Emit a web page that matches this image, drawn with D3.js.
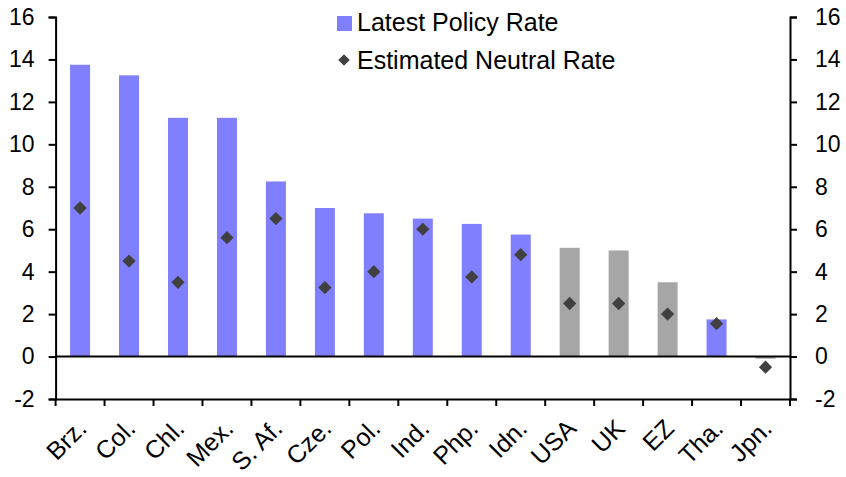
<!DOCTYPE html>
<html>
<head>
<meta charset="utf-8">
<style>
  body { margin: 0; background: #fff; }
  svg { font-family: "Liberation Sans", Arial, sans-serif; }
</style>
</head>
<body>
<svg id="chart" width="846" height="477"></svg>
<script src="https://cdnjs.cloudflare.com/ajax/libs/d3/7.8.5/d3.min.js"></script>
<script>
  const categories = ["Brz.", "Col.", "Chl.", "Mex.", "S. Af.", "Cze.", "Pol.", "Ind.", "Php.", "Idn.", "USA", "UK", "EZ", "Tha.", "Jpn."];
  const policyRate = [13.75, 13.25, 11.25, 11.25, 8.25, 7.0, 6.75, 6.5, 6.25, 5.75, 5.125, 5.0, 3.5, 1.75, -0.1];
  const neutralRate = [7.0, 4.5, 3.5, 5.6, 6.5, 3.25, 4.0, 6.0, 3.75, 4.8, 2.5, 2.5, 2.0, 1.55, -0.5];
  const advanced = ["USA", "UK", "EZ", "Jpn."];
  const yTicks = [-2, 0, 2, 4, 6, 8, 10, 12, 14, 16];

  const blue = "#8080ff";
  const grey = "#a6a6a6";
  const dark = "#404040";

  const plotLeft = 55.6, plotRight = 790, plotTop = 17, plotBottom = 399;
  const svg = d3.select("#chart");

  const x = d3.scaleBand().domain(categories).range([plotLeft, plotRight]).paddingInner(0).paddingOuter(0);
  const y = d3.scaleLinear().domain([-2, 16]).range([plotBottom, plotTop]);
  const barW = 20;

  // bars
  svg.append("g").selectAll("rect")
    .data(categories)
    .join("rect")
    .attr("x", d => x(d) + x.bandwidth() / 2 - barW / 2)
    .attr("width", barW)
    .attr("y", (d, i) => y(Math.max(0, policyRate[i])))
    .attr("height", (d, i) => Math.abs(y(policyRate[i]) - y(0)))
    .attr("fill", d => advanced.includes(d) ? grey : blue);

  // zero line
  svg.append("line")
    .attr("x1", plotLeft).attr("x2", plotRight)
    .attr("y1", y(0)).attr("y2", y(0))
    .attr("stroke", "#000").attr("stroke-width", 2);

  // diamonds
  const diamond = d3.symbol(d3.symbolSquare, 88);
  svg.append("g").selectAll("path")
    .data(categories)
    .join("path")
    .attr("d", diamond)
    .attr("transform", (d, i) => `translate(${x(d) + x.bandwidth() / 2},${y(neutralRate[i])}) rotate(45)`)
    .attr("fill", dark);

  // axes, hyphen for minus like the original
  const fmt = d => String(d);
  const yLeft = svg.append("g")
    .attr("transform", `translate(${plotLeft},0)`)
    .call(d3.axisLeft(y).tickValues(yTicks).tickFormat(fmt).tickSize(7).tickPadding(14));
  const yRight = svg.append("g")
    .attr("transform", `translate(${plotRight},0)`)
    .call(d3.axisRight(y).tickValues(yTicks).tickFormat(fmt).tickSize(7).tickPadding(18));
  const xAxis = svg.append("g")
    .attr("transform", `translate(0,${plotBottom})`)
    .call(d3.axisBottom(x).tickSize(0).tickFormat(""));

  [yLeft, yRight].forEach(g => {
    g.select(".domain").attr("stroke-width", 2);
    g.selectAll(".tick line").attr("stroke-width", 2);
    g.selectAll(".tick text").attr("font-size", 23).attr("fill", "#000");
  });
  xAxis.select(".domain").attr("stroke-width", 2);

  // bottom boundary ticks
  const bounds = categories.map(c => x(c)).concat([plotRight]);
  svg.append("g").selectAll("line")
    .data(bounds)
    .join("line")
    .attr("x1", d => d).attr("x2", d => d)
    .attr("y1", plotBottom).attr("y2", plotBottom + 7)
    .attr("stroke", "#000").attr("stroke-width", 2);

  // category labels
  svg.append("g").selectAll("text")
    .data(categories)
    .join("text")
    .attr("transform", d => `translate(${x(d) + x.bandwidth() / 2 + 8},${plotBottom + 31}) rotate(-45)`)
    .attr("text-anchor", "end")
    .attr("font-size", 25)
    .text(d => d);

  // legend
  const legend = svg.append("g");
  legend.append("rect").attr("x", 337).attr("y", 16).attr("width", 15).attr("height", 15).attr("fill", blue);
  legend.append("text").attr("x", 357).attr("y", 31).attr("font-size", 25).text("Latest Policy Rate");
  legend.append("path")
    .attr("d", d3.symbol(d3.symbolSquare, 66))
    .attr("transform", "translate(344,60) rotate(45)")
    .attr("fill", dark);
  legend.append("text").attr("x", 357).attr("y", 69).attr("font-size", 25).text("Estimated Neutral Rate");
</script>
</body>
</html>
